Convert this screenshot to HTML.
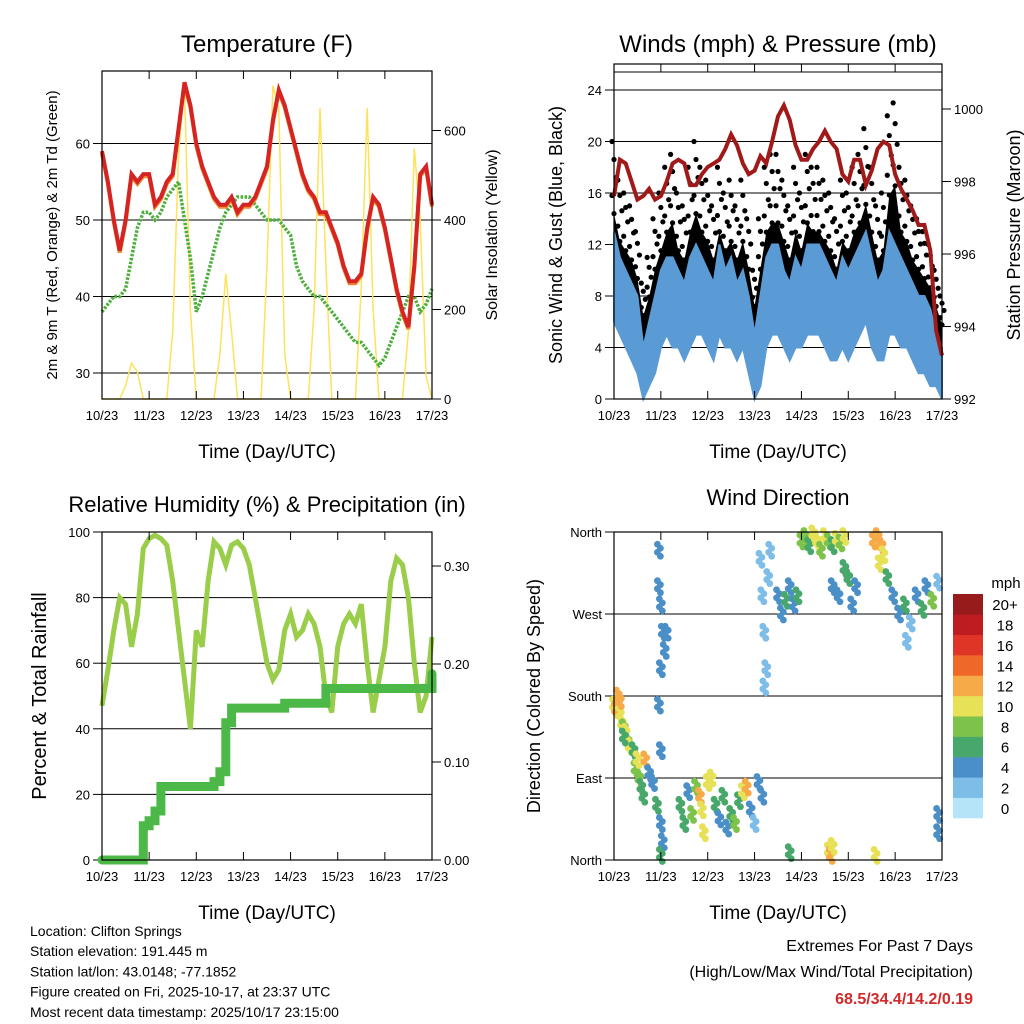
<!DOCTYPE html>
<html><head><meta charset="utf-8"><style>
body{margin:0;background:#fff;}
svg{display:block;font-family:"Liberation Sans",sans-serif;}
</style></head><body>
<svg id="c" width="1024" height="1024" viewBox="0 0 1024 1024" xmlns="http://www.w3.org/2000/svg"></svg>
<script>
// ---- data (3-hourly samples from 10/23 00 UTC to 17/23) ----
const dayLabels = ["10/23","11/23","12/23","13/23","14/23","15/23","16/23","17/23"];
const tempF = [59,55,50,46,50,56,55,56,56,52,53,55,56,62,68,65,60,57,55,53,52,52,53,51,52,52,53,55,57,63,67,65,62,59,56,54,53,51,51,49,47,44,42,42,43,49,53,52,49,45,41,38,36,44,56,57,52];
const dewF = [38,39,40,40,41,45,49,51,51,50,51,53,54,55,50,45,38,40,43,46,49,51,52,53,53,53,52,51,50,50,50,49,48,44,42,41,40,40,39,38,37,36,35,34,34,33,32,31,32,34,36,38,40,40,38,39,41];
const solar = [0,0,0,0,30,80,60,0,0,0,0,0,150,550,700,200,0,0,0,0,100,280,150,0,0,0,0,0,300,700,650,100,0,0,0,0,200,650,300,0,0,0,0,0,250,650,200,0,0,0,0,0,150,560,400,50,0];
const windHi = [13,11,10,9,8,4,6,8,10,11,11,10,9,11,12,11,10,9,12,10,11,9,10,8,5,8,11,12,12,10,9,11,10,12,12,12,11,10,9,11,10,11,12,13,11,9,10,13,12,11,10,9,8,8,7,5,4];
const windLo = [6,5,4,3,2,0,1,2,4,5,4,4,3,4,5,5,4,3,5,4,4,3,4,2,0,1,4,5,5,4,3,4,4,5,5,5,4,3,3,4,3,4,5,6,4,3,3,5,5,4,4,3,2,2,1,1,0];
const gustHi = [20,17,16,15,13,9,11,14,16,18,19,16,15,18,20,18,17,15,18,16,17,15,17,14,10,14,18,19,19,17,15,18,16,19,18,18,17,16,14,17,16,18,19,21,18,15,16,22,23,18,17,15,14,13,12,10,8];
const pressure = [997.6,998.6,998.5,998.0,997.5,997.6,997.8,997.5,997.6,998.0,998.5,998.6,998.5,997.9,997.9,998.2,998.4,998.5,998.6,998.9,999.3,999.0,998.5,998.2,998.3,998.7,998.5,999.1,999.8,1000.1,999.7,999.0,998.6,998.6,998.9,999.1,999.4,999.1,998.9,998.2,998.0,998.6,998.6,997.9,998.3,998.9,999.1,999.0,998.2,997.8,997.5,997.2,996.8,996.8,996.1,993.9,993.2];
const rh = [47,58,70,80,78,65,75,95,98,99,98,96,85,70,55,40,70,65,85,97,95,90,96,97,95,90,80,70,60,55,58,70,75,68,70,75,72,65,50,45,65,72,75,72,78,60,45,55,65,85,92,90,80,60,45,50,68];
const precip = [0,0,0,0,0,0,0,0.035,0.04,0.05,0.075,0.075,0.075,0.075,0.075,0.075,0.075,0.075,0.075,0.08,0.09,0.14,0.155,0.155,0.155,0.155,0.155,0.155,0.155,0.155,0.155,0.16,0.16,0.16,0.16,0.16,0.16,0.16,0.175,0.175,0.175,0.175,0.175,0.175,0.175,0.175,0.175,0.175,0.175,0.175,0.175,0.175,0.175,0.175,0.175,0.175,0.19];
const dirHours = [0,1,2,3,4,5,6,7,8,3,5, 10,11,12,13,14,15,16,18,20,22,24, 23,23,24,25,24,23,24,25,24,27,26, 34,36,38,40,42,44,45,46,48,50,52,54,56,58,60,62,64,66,68,70,72,74,76, 75,76,77,78,79,80,77, 84,86,88,90,92,94, 96,98,100,102,104,106,108,110,112,114,116,118, 112,115,118,120,122,124, 133,135,137,138,136, 140,143,146,149,152,155,158,160,163,166,150, 110,111,112,134,90,166,166];
const dirDeg = [170,165,180,160,150,145,140,130,125,175,135, 120,100,110,90,80,70,110,95,85,60,40, 340,300,280,250,210,170,120,20,5,250,230, 60,40,75,50,80,70,55,30,85,90,60,45,70,35,50,40,65,75,80,55,40,85,70, 330,290,250,210,310,340,190, 290,270,285,300,280,290, 350,355,345,358,350,340,355,350,345,352,348,355, 300,290,320,310,280,300, 350,355,345,335,325, 310,290,270,280,260,290,275,300,285,305,240, 10,5,15,5,8,30,50];
const dirSpeed = [10,11,12,10,9,8,10,7,9,11,6, 6,8,10,7,6,5,11,4,3,5,4, 3,4,3,3,3,4,3,3,5,4,4, 5,6,4,8,7,11,10,9,9,10,5,3,6,4,5,8,6,9,11,3,2,4,3, 1,2,1,2,1,2,1, 4,3,5,4,3,6, 7,8,6,9,10,8,10,7,6,9,8,10, 4,3,6,5,4,3, 12,11,12,10,9, 5,4,3,5,2,4,6,3,7,2,1, 10,11,9,10,6,3,4];
const speedColors = ["#b5e3f8","#7dbde8","#4a8fc8","#48a86c","#7dc24a","#e6e156","#f7aa48","#f0672a","#de3527","#bf1c22","#981b1b"];
const speedLabels = ["0","2","4","6","8","10","12","14","16","18","20+"];

const svg = document.getElementById('c');
const NS = 'http://www.w3.org/2000/svg';
function mk(tag, a, parent){const e=document.createElementNS(NS,tag);for(const k in a)e.setAttribute(k,a[k]);(parent||svg).appendChild(e);return e;}
function txt(s, x, y, size, anchor, parent, rot){const t=mk('text',{x:x,y:y,'font-size':size,'text-anchor':anchor||'middle',fill:'#000'},parent);if(rot)t.setAttribute('transform','rotate(-90 '+x+' '+y+')');t.textContent=s;return t;}

const P = [{x0:102,x1:432,y0:71,y1:399},{x0:614,x1:942,y0:64,y1:399},{x0:102,x1:432,y0:532,y1:860},{x0:614,x1:942,y0:532,y1:860}];
function X(p,i){return p.x0 + (i*3)/168*(p.x1-p.x0);}
function XH(p,h){return p.x0 + h/168*(p.x1-p.x0);}
const yT=v=>373-(v-30)*7.65, yS=v=>399-v*0.4475, yW=v=>399-v*12.875, yP=v=>399-(v-992)*36.25;
const yR=v=>860-v*3.28, yPr=v=>860-v*980, yD=v=>860-v*328/360;

function frame(p, name){
  const g=mk('g',{});
  
  
  return g;
}
function border(p,g){mk('rect',{x:p.x0,y:p.y0,width:p.x1-p.x0,height:p.y1-p.y0,fill:'none',stroke:'#000','stroke-width':1.2},g);}
function hline(p,y,g){mk('line',{x1:p.x0,x2:p.x1,y1:y,y2:y,stroke:'#000','stroke-width':1},g);}
function xaxis(p,g){
  for(let d=0;d<8;d++){const x=p.x0+d*(p.x1-p.x0)/7;
    mk('line',{x1:x,x2:x,y1:p.y1,y2:p.y1-8,stroke:'#000'},g);mk('line',{x1:x,x2:x,y1:p.y0,y2:p.y0+8,stroke:'#000'},g);
    const t=txt(dayLabels[d],x,p.y1+21,13,'middle',g);
    
    
  }
  const t=txt('Time (Day/UTC)',(p.x0+p.x1)/2,p.y1+59,19,'middle',g);
  
  
}
function ltick(p,y,label,g){mk('line',{x1:p.x0-9,x2:p.x0,y1:y,y2:y,stroke:'#000'},g);const t=txt(label,p.x0-12,y+5,13,'end',g);}
function rtick(p,y,label,g){mk('line',{x1:p.x1,x2:p.x1+9,y1:y,y2:y,stroke:'#000'},g);const t=txt(label,p.x1+12,y+5,13,'start',g);}
function pts(p,arr,f){return arr.map((v,i)=>X(p,i).toFixed(1)+','+f(v).toFixed(1)).join(' ');}

// ---------- Panel 1: Temperature ----------
let p=P[0]; let g=frame(p,'temperature-panel');
[30,40,50,60].forEach(v=>{hline(p,yT(v),g);ltick(p,yT(v),String(v),g);});
[0,200,400,600].forEach(v=>rtick(p,yS(v),String(v),g));
let e=mk('polyline',{points:pts(p,solar,v=>yS(v)),fill:'none',stroke:'#fde25a','stroke-width':1.5},g);


e=mk('polyline',{points:pts(p,dewF,v=>yT(v)),fill:'none',stroke:'#4caf3a','stroke-width':3.5,'stroke-dasharray':'2.5 1.5'},g);


e=mk('polyline',{points:pts(p,tempF,v=>yT(v)+2),fill:'none',stroke:'#f28a2e','stroke-width':4},g);


e=mk('polyline',{points:pts(p,tempF,v=>yT(v)),fill:'none',stroke:'#d42424','stroke-width':4},g);


border(p,g);xaxis(p,g);
e=txt('Temperature (F)',267,52,24,'middle',g);


e=txt('2m & 9m T (Red, Orange) & 2m Td (Green)',57,235,15,'middle',g,true);


e=txt('Solar Insolation (Yellow)',497,235,16,'middle',g,true);



// ---------- Panel 2: Winds & Pressure ----------
p=P[1]; g=frame(p,'winds-pressure-panel');
[0,4,8,12,16,20,24].forEach(v=>{if(v>0&&v!=12)hline(p,yW(v),g);ltick(p,yW(v),String(v),g);});
hline(p,72,g);
[992,994,996,998,1000].forEach(v=>rtick(p,yP(v),String(v),g));
let gb=[];gustHi.forEach((v,i)=>gb.push(X(p,i).toFixed(1)+','+yW(Math.max(windHi[i]+1,v*0.72)).toFixed(1)));
let lowB=[];windLo.forEach((v,i)=>lowB.push(X(p,i).toFixed(1)+','+yW(v+2).toFixed(1)));
e=mk('polygon',{points:gb.concat(lowB.reverse()).join(' '),fill:'#000'},g);


gustHi.forEach((v,i)=>{const base=Math.max(windHi[i]+1,v*0.72);for(let k=0;k<5;k++){const c=mk('circle',{cx:X(p,i)+(k%3)*2-2,cy:yW(v-(v-base)*k/4),r:2.6,fill:'#000'},g);
  
  }});
let wb=[];windHi.forEach((v,i)=>wb.push(X(p,i).toFixed(1)+','+yW(v).toFixed(1)));
let wl=[];windLo.forEach((v,i)=>wl.push(X(p,i).toFixed(1)+','+yW(v).toFixed(1)));
e=mk('polygon',{points:wb.concat(wl.reverse()).join(' '),fill:'#5a9bd5',stroke:'#5a9bd5','stroke-width':2},g);


e=mk('polyline',{points:pts(p,pressure,v=>yP(v)),fill:'none',stroke:'#a01a1a','stroke-width':4},g);


border(p,g);xaxis(p,g);
e=txt('Winds (mph) & Pressure (mb)',778,52,24,'middle',g);


e=txt('Sonic Wind & Gust (Blue, Black)',562,235,18,'middle',g,true);


e=txt('Station Pressure (Maroon)',1020,235,18,'middle',g,true);



// ---------- Panel 3: RH & Precip ----------
p=P[2]; g=frame(p,'humidity-precip-panel');
[0,20,40,60,80,100].forEach(v=>{if(v>0&&v<100)hline(p,yR(v),g);ltick(p,yR(v),String(v),g);});
[0,0.1,0.2,0.3].forEach(v=>rtick(p,yPr(v),v.toFixed(2),g));
e=mk('polyline',{points:pts(p,rh,v=>yR(v)),fill:'none',stroke:'#9acd4a','stroke-width':5},g);


let st=[];precip.forEach((v,i)=>{st.push(X(p,i).toFixed(1)+','+yPr(i>0?precip[i-1]:v).toFixed(1));st.push(X(p,i).toFixed(1)+','+yPr(v).toFixed(1));});
e=mk('polyline',{points:st.join(' '),fill:'none',stroke:'#4cb848','stroke-width':9,'stroke-linecap':'round'},g);


border(p,g);xaxis(p,g);
e=txt('Relative Humidity (%) & Precipitation (in)',267,512,22,'middle',g);


e=txt('Percent & Total Rainfall',46,696,20,'middle',g,true);



// ---------- Panel 4: Wind Direction ----------
p=P[3]; g=frame(p,'wind-direction-panel');
const dirNames=["North","East","South","West","North"];
[0,90,180,270,360].forEach((v,i)=>{if(v>0&&v<360)hline(p,yD(v),g);ltick(p,yD(v),dirNames[i],g);});
dirHours.forEach((h,i)=>{
  const bin=Math.min(10,Math.round(dirSpeed[i]/2));
  for(let k=0;k<4;k++){
    const c=mk('circle',{cx:XH(p,h)+(k%2)*3-1.5,cy:yD(dirDeg[i])+k*4-6,r:3.4,fill:speedColors[bin]},g);
    
    
  }
});
border(p,g);xaxis(p,g);
e=txt('Wind Direction',778,505,22,'middle',g);


e=txt('Direction (Colored By Speed)',540,696,18,'middle',g,true);


// colorbar
const cb=mk('g',{});


const bh=(818-594)/11;
speedColors.forEach((c,i)=>{const yy=818-(i+1)*bh;
  const r=mk('rect',{x:953,y:yy,width:30,height:bh+0.3,fill:c},cb);
  
  
  const t=txt(speedLabels[i],1005,yy+bh/2+6,15,'middle',cb);
  
  });
e=txt('mph',1006,588,15,'middle',cb);



// ---------- Footer ----------
const foot=["Location: Clifton Springs","Station elevation: 191.445 m","Station lat/lon: 43.0148; -77.1852","Figure created on Fri, 2025-10-17, at 23:37 UTC","Most recent data timestamp: 2025/10/17 23:15:00"];
foot.forEach((s,i)=>{const t=txt(s,30,936+i*20.2,14,'start');
  
  });
e=txt('Extremes For Past 7 Days',973,951,16,'end');


e=txt('(High/Low/Max Wind/Total Precipitation)',973,977,16,'end');


e=txt('68.5/34.4/14.2/0.19',973,1004,16,'end');
e.setAttribute('fill','#d12a2a');
e.setAttribute('font-weight','bold');


</script>
</body></html>
